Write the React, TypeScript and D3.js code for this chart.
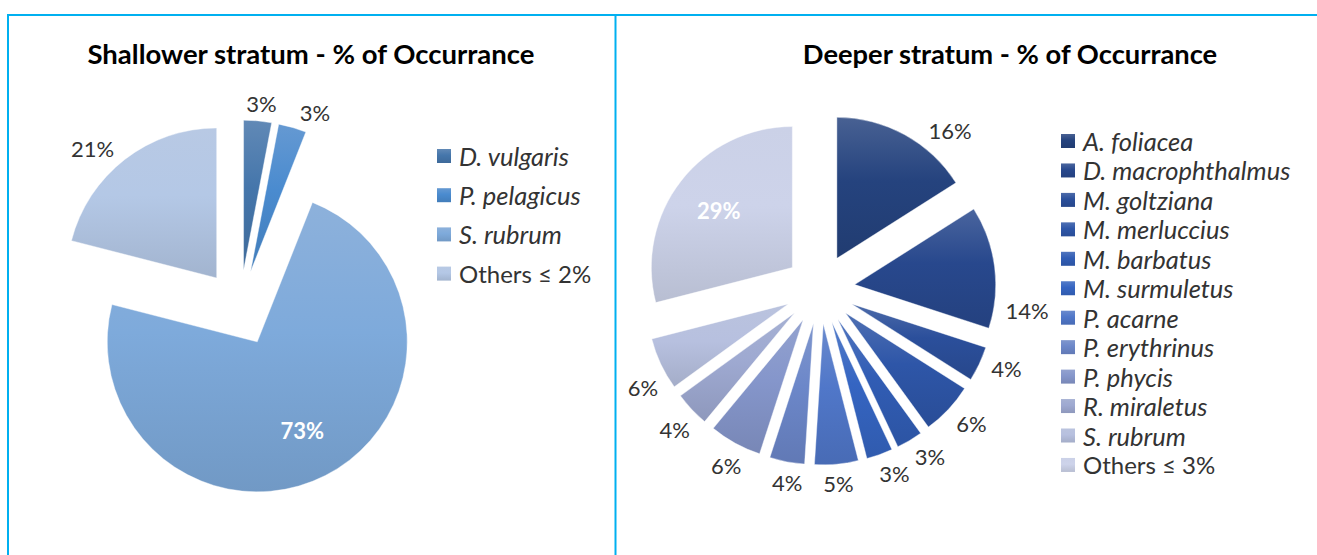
import React from 'react';
import * as d3 from 'd3';

// ---------- Data ----------
const shallowCategories = ['D. vulgaris', 'P. pelagicus', 'S. rubrum', 'Others ≤ 2%'];
const shallowValues = [3, 3, 73, 21];
const shallowItalic = [true, true, true, false];
const shallowColors = ['#4576ab', '#4a8bcf', '#7eaadb', '#b4c8e6'];

const deepCategories = [
  'A. foliacea', 'D. macrophthalmus', 'M. goltziana', 'M. merluccius', 'M. barbatus',
  'M. surmuletus', 'P. acarne', 'P. erythrinus', 'P. phycis', 'R. miraletus', 'S. rubrum', 'Others ≤ 3%',
];
const deepValues = [16, 14, 4, 6, 3, 3, 5, 4, 6, 4, 6, 29];
const deepItalic = [true, true, true, true, true, true, true, true, true, true, true, false];
const deepColors = [
  '#25437e', '#28488d', '#2b4f9b', '#2e56a8', '#315db5', '#3565c2',
  '#5077c9', '#6c87c9', '#8596cb', '#9ea9d1', '#b7c0df', '#cdd3ea',
];

// label angle adjustments (degrees), layout only
const shallowLabelNudge = [0.6, 4.8, 0, -5];
const deepLabelNudge = [10.5, 13, -2, -1.7, -2.6, -2.2, 0, -1.2, -0.8, -0.8, -4, 0];

const FONT = "Lato, 'Open Sans', 'DejaVu Sans', sans-serif";
const BORDER = '#00b0f0';
const TEXT = '#333333';

type PieProps = {
  id: string;
  title: string;
  titleX: number;
  titleSize: number;
  categories: string[];
  values: number[];
  italic: boolean[];
  colors: string[];
  nudges: number[];
  cx: number;
  cy: number;
  r: number;
  explode: number;
  labelGap: number;
  legendX: number;
  legendY: number;
  legendStep: number;
  legendSquare: number;
};

const LABEL_FS = 22;

function Pie(p: PieProps) {
  const pie = d3.pie<number>().sort(null).value((d) => d).startAngle(0).endAngle(2 * Math.PI);
  const arcs = pie(p.values);
  const arc = d3.arc<d3.PieArcDatum<number>>().innerRadius(0).outerRadius(p.r);
  const total = d3.sum(p.values);
  const maxV = d3.max(p.values) as number;

  const gradId = (i: number) => `${p.id}-g${i}`;

  return (
    <g>
      <defs>
        {p.colors.map((c, i) => {
          const top = d3.interpolateRgb(c, '#c4ccdc')(0.22);
          const bottom = d3.color(c)!.darker(0.3).formatHex();
          return (
            <linearGradient key={i} id={gradId(i)} x1="0" y1="0" x2="0" y2="1">
              <stop offset="0" stopColor={top} />
              <stop offset="0.45" stopColor={c} />
              <stop offset="1" stopColor={bottom} />
            </linearGradient>
          );
        })}
      </defs>
      <text
        x={p.titleX}
        y={64}
        textAnchor="middle"
        fontFamily={FONT}
        fontWeight="bold"
        fontSize={p.titleSize}
        fill="#000"
      >
        {p.title}
      </text>
      {arcs.map((a, i) => {
        const mid = (a.startAngle + a.endAngle) / 2;
        const ux = Math.sin(mid);
        const uy = -Math.cos(mid);
        const tx = p.cx + ux * p.explode;
        const ty = p.cy + uy * p.explode;
        return (
          <path
            key={i}
            d={arc(a) as string}
            transform={`translate(${tx},${ty})`}
            fill={`url(#${gradId(i)})`}
            stroke="#ffffff"
            strokeOpacity={0.5}
            strokeWidth={0.8}
          />
        );
      })}
      {arcs.map((a, i) => {
        const v = p.values[i];
        const pct = Math.round((v / total) * 100);
        const text = `${pct}%`;
        const mid = (a.startAngle + a.endAngle) / 2;
        const inside = v === maxV && v >= 25;
        if (inside) {
          const ux = Math.sin(mid);
          const uy = -Math.cos(mid);
          const dist = p.explode + p.r * 0.66;
          return (
            <text
              key={i}
              x={p.cx + ux * dist}
              y={p.cy + uy * dist}
              textAnchor="middle"
              dominantBaseline="central"
              fontFamily={FONT}
              fontWeight="bold"
              fontSize={LABEL_FS}
              fill="#ffffff"
            >
              {text}
            </text>
          );
        }
        const ang = mid + (p.nudges[i] * Math.PI) / 180;
        const ux = Math.sin(ang);
        const uy = -Math.cos(ang);
        const w = (text.length - 1) * 0.58 * LABEL_FS + 0.8 * LABEL_FS;
        const h = 15;
        const R0 = p.r + p.explode + p.labelGap;
        const dist = R0 + Math.abs(ux) * (w / 2) + Math.abs(uy) * (h / 2);
        return (
          <text
            key={i}
            x={p.cx + ux * dist}
            y={p.cy + uy * dist}
            textAnchor="middle"
            dominantBaseline="central"
            fontFamily={FONT}
            fontSize={LABEL_FS}
            fill={TEXT}
          >
            {text}
          </text>
        );
      })}
      {p.categories.map((c, i) => {
        const y = p.legendY + i * p.legendStep;
        return (
          <g key={c}>
            <rect
              x={p.legendX}
              y={y - p.legendSquare / 2}
              width={p.legendSquare}
              height={p.legendSquare}
              fill={`url(#${gradId(i)})`}
            />
            <text
              x={p.legendX + p.legendSquare + 8}
              y={y}
              dominantBaseline="central"
              fontFamily={FONT}
              fontStyle={p.italic[i] ? 'italic' : 'normal'}
              fontSize={p.italic[i] ? 25.5 : 24}
              fill={TEXT}
            >
              {c}
            </text>
          </g>
        );
      })}
    </g>
  );
}

export default function App() {
  return (
    <svg
      width={1317}
      height={555}
      style={{ position: 'absolute', left: 0, top: 0, background: '#ffffff' }}
    >
      <rect x={0} y={0} width={1317} height={555} fill="#ffffff" />
      <line x1={7} y1={15} x2={1317} y2={15} stroke={BORDER} strokeWidth={2} />
      <line x1={8} y1={14} x2={8} y2={555} stroke={BORDER} strokeWidth={2} />
      <line x1={615.5} y1={14} x2={615.5} y2={555} stroke={BORDER} strokeWidth={2} />
      <Pie
        id="shallow"
        title="Shallower stratum - % of Occurrance"
        titleX={311}
        titleSize={27.5}
        categories={shallowCategories}
        values={shallowValues}
        italic={shallowItalic}
        colors={shallowColors}
        nudges={shallowLabelNudge}
        cx={240}
        cy={308}
        r={150}
        explode={38}
        labelGap={9}
        legendX={437}
        legendY={156}
        legendStep={39.2}
        legendSquare={14}
      />
      <Pie
        id="deep"
        title="Deeper stratum - % of Occurrance"
        titleX={1010}
        titleSize={27.3}
        categories={deepCategories}
        values={deepValues}
        italic={deepItalic}
        colors={deepColors}
        nudges={deepLabelNudge}
        cx={820}
        cy={289}
        r={141}
        explode={35}
        labelGap={10}
        legendX={1061}
        legendY={141}
        legendStep={29.45}
        legendSquare={14}
      />
    </svg>
  );
}
